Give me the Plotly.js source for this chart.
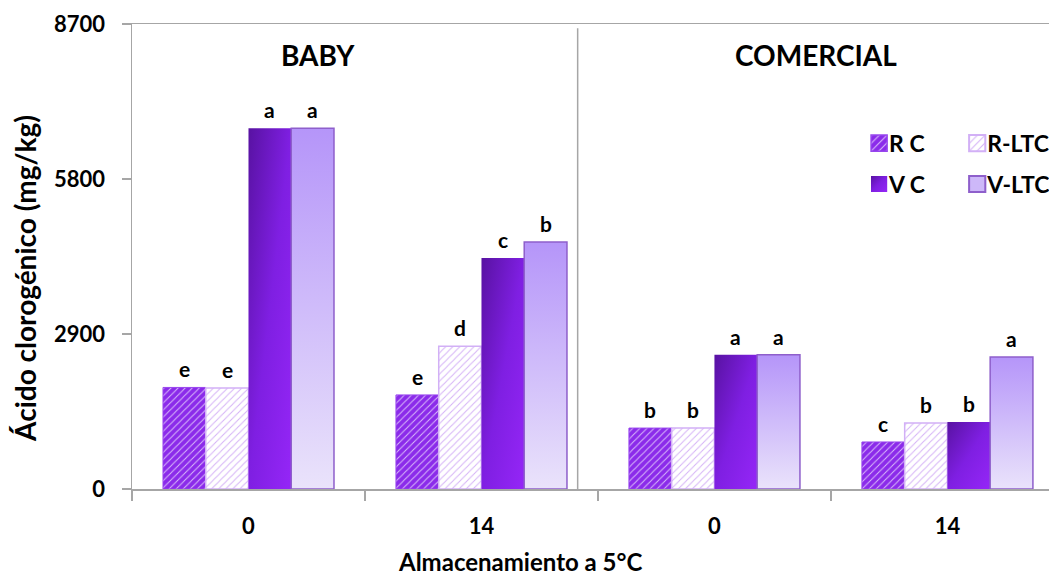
<!DOCTYPE html>
<html><head><meta charset="utf-8">
<script src="https://cdn.plot.ly/plotly-3.0.1.min.js"></script>
<style>html,body{margin:0;padding:0;background:#fff}</style>
</head><body><div id="chart" style="width:1049px;height:575px"></div>
<script>
// ---- data ----
const groups = ['BABY', 'BABY', 'COMERCIAL', 'COMERCIAL'];
const days = ['0', '14', '0', '14'];
const seriesNames = ['R C', 'R-LTC', 'V C', 'V-LTC'];
const rC = [1900, 1760, 1140, 880];
const rLTC = [1890, 2670, 1140, 1235];
const vC = [6750, 4320, 2510, 1255];
const vLTC = [6750, 4620, 2510, 2470];
const lettersRC = ['e', 'e', 'b', 'c'];
const lettersRLTC = ['e', 'd', 'b', 'b'];
const lettersVC = ['a', 'c', 'a', 'b'];
const lettersVLTC = ['a', 'b', 'a', 'a'];
const yTicks = [0, 2900, 5800, 8700];
const panelLabels = ['BABY', 'COMERCIAL'];
const xTitle = 'Almacenamiento a 5°C';
const yTitle = 'Ácido clorogénico (mg/kg)';

// ---- build ----
const cats = groups.map((g, i) => g + ' ' + days[i]);
const values = [rC, rLTC, vC, vLTC];
const letters = [lettersRC, lettersRLTC, lettersVC, lettersVLTC];
const FONT = 'Lato, "Open Sans", sans-serif';
const GRAY = '#A6A6A6';
const bargap = 0.266;

const styles = [
  {color: '#8B2BEA', pattern: {shape: '/', fgcolor: '#F3EAFF', bgcolor: '#8B2BEA', fgopacity: 0.75, size: 5, solidity: 0.2}, line: {color: '#9745EE', width: 1}, legend: 'legend'},
  {color: '#FFFFFF', pattern: {shape: '/', fgcolor: '#D5B2F7', bgcolor: '#FFFFFF', size: 5, solidity: 0.2}, line: {color: '#D2B0F6', width: 1.5}, legend: 'legend2'},
  {color: '#7A1CD8', line: {color: '#7A1CD8', width: 0}, legend: 'legend'},
  {color: '#CDB8F9', line: {color: '#8E5FCB', width: 1.5}, legend: 'legend2'}
];

const traces = seriesNames.map((name, j) => {
  const s = styles[j];
  const marker = {color: s.color, line: s.line};
  if (s.pattern) marker.pattern = s.pattern;
  return {
    type: 'bar', name: name, x: cats, y: values[j], marker: marker,
    legend: s.legend, legendgroup: name, hoverinfo: 'skip'
  };
});

const w = (1 - bargap) / seriesNames.length;
const annotations = [];
values.forEach((vals, j) => {
  vals.forEach((v, i) => {
    annotations.push({
      xref: 'x', yref: 'y', x: i + (j - 1.5) * w, y: v, text: letters[j][i],
      showarrow: false, yanchor: 'bottom', yshift: 4,
      font: {family: FONT, size: 21, weight: 700, color: '#000'}
    });
  });
});
panelLabels.forEach((t, k) => {
  annotations.push({
    xref: 'paper', yref: 'paper', x: [0.203, 0.746][k], y: 0.933, text: t,
    showarrow: false, xanchor: 'center', yanchor: 'middle',
    font: {family: FONT, size: 28, weight: 700, color: '#000'}
  });
});
annotations.push({
  xref: 'paper', yref: 'paper', x: 0.424, y: -0.155, text: xTitle, showarrow: false,
  xanchor: 'center', yanchor: 'middle', font: {family: FONT, size: 24, weight: 700, color: '#000'}
});
annotations.push({
  xref: 'paper', yref: 'paper', x: -0.1167, y: 0.454, text: yTitle, showarrow: false, textangle: -90,
  xanchor: 'center', yanchor: 'middle', font: {family: FONT, size: 28, weight: 700, color: '#000'}
});

const legendBase = {
  bgcolor: 'rgba(0,0,0,0)', borderwidth: 0, orientation: 'v', tracegroupgap: 8,
  yanchor: 'top', y: 0.79, xanchor: 'left',
  font: {family: FONT, size: 23, weight: 700, color: '#000'}
};

const layout = {
  width: 1049, height: 575,
  margin: {l: 132, r: 0, t: 24, b: 86, pad: 0, autoexpand: false},
  paper_bgcolor: '#FFFFFF', plot_bgcolor: '#FFFFFF',
  font: {family: FONT, color: '#000', size: 20},
  barmode: 'group', bargap: bargap, bargroupgap: 0,
  showlegend: true,
  legend: Object.assign({}, legendBase, {x: 0.782}),
  legend2: Object.assign({}, legendBase, {x: 0.889}),
  xaxis: {
    type: 'category', tickmode: 'array', tickvals: cats, ticktext: days,
    range: [-0.5, 3.436], tickson: 'boundaries', ticks: 'outside', ticklen: 10,
    tickwidth: 1.5, tickcolor: GRAY, showline: true, linecolor: GRAY, linewidth: 1.5,
    mirror: true, showgrid: false, zeroline: false, ticklabelstandoff: 17,
    tickfont: {family: FONT, size: 22, weight: 700, color: '#000'}
  },
  yaxis: {
    range: [0, 8700], tickmode: 'array', tickvals: yTicks, ticktext: yTicks.map(String),
    ticks: 'outside', ticklen: 9, tickwidth: 1.5, tickcolor: GRAY,
    showline: true, linecolor: GRAY, linewidth: 1.5, showgrid: false, zeroline: false,
    ticklabelstandoff: 12,
    tickfont: {family: FONT, size: 22, weight: 700, color: '#000'}
  },
  shapes: [{
    type: 'line', xref: 'paper', yref: 'paper', x0: 0.486, x1: 0.486, y0: 0, y1: 0.991,
    line: {color: GRAY, width: 1.5}
  }],
  annotations: annotations
};

Plotly.newPlot('chart', traces, layout, {displayModeBar: false, staticPlot: true}).then(gd => {
  const ns = 'http://www.w3.org/2000/svg';
  const svg = gd.querySelector('.main-svg');
  let defs = svg.querySelector('defs');
  if (!defs) { defs = document.createElementNS(ns, 'defs'); svg.insertBefore(defs, svg.firstChild); }
  function addGrad(id, x2, y2, stops) {
    const g = document.createElementNS(ns, 'linearGradient');
    g.setAttribute('id', id);
    g.setAttribute('x1', '0'); g.setAttribute('y1', '0');
    g.setAttribute('x2', String(x2)); g.setAttribute('y2', String(y2));
    stops.forEach(([o, c]) => {
      const s = document.createElementNS(ns, 'stop');
      s.setAttribute('offset', String(o)); s.setAttribute('stop-color', c);
      g.appendChild(s);
    });
    defs.appendChild(g);
  }
  addGrad('gVC', 1, 1, [[0, '#5812A2'], [0.5, '#7F1FE2'], [1, '#9526F7']]);
  addGrad('gVLTC', 0, 1, [[0, '#B595F9'], [1, '#EAE3FB']]);
  const fills = {'V C': 'url(#gVC)', 'V-LTC': 'url(#gVLTC)'};
  const barTraces = gd.querySelectorAll('.barlayer .trace');
  barTraces.forEach((t, j) => {
    const f = fills[seriesNames[j]];
    if (f) t.querySelectorAll('path').forEach(p => { p.style.fill = f; });
  });
  gd.querySelectorAll('g.traces').forEach(item => {
    const txt = item.querySelector('.legendtext');
    const name = txt ? txt.textContent : '';
    item.querySelectorAll('.legendpoints path').forEach(p => {
      if (fills[name]) p.style.fill = fills[name];
      const tr = p.getAttribute('transform') || '';
      p.setAttribute('transform', tr + ' translate(10,0) scale(1.35)');
    });
  });
});
</script>
</body></html>
